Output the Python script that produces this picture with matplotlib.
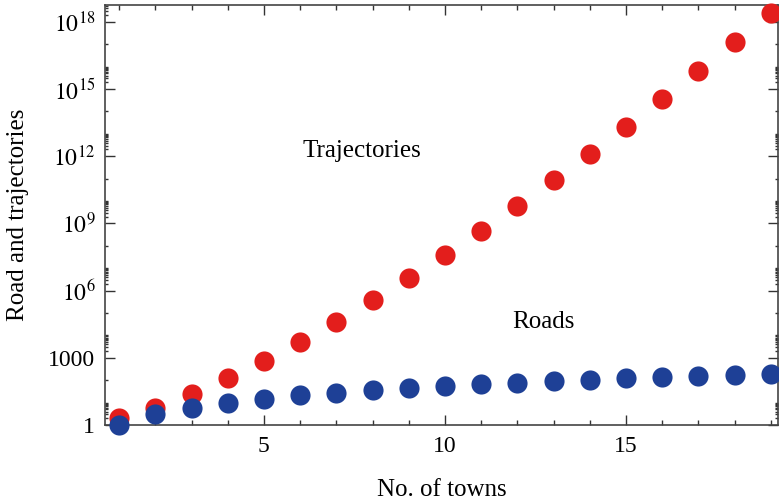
import numpy as np
import matplotlib.pyplot as plt
from matplotlib.ticker import FixedLocator, NullFormatter

plt.rcParams['font.family'] = ['Liberation Serif', 'DejaVu Serif']
plt.rcParams['mathtext.fontset'] = 'stix'

# number of towns
towns = list(range(1, 20))
# possible trajectories, (n+1)!
trajectories = [2, 6, 24, 120, 720, 5040, 40320, 362880, 3628800,
                39916800, 479001600, 6227020800, 87178291200,
                1.307674368e12, 2.0922789888e13, 3.55687428096e14,
                6.402373705728e15, 1.21645100408832e17, 2.43290200817664e18]
# roads between towns
roads = [1, 3, 6, 10, 15, 21, 28, 36, 45, 55, 66, 78, 91, 105, 120,
         136, 153, 171, 190]

ytick_vals = [1, 1e3, 1e6, 1e9, 1e12, 1e15, 1e18]
ytick_labels = ['1', '1000', '$10^{6}$', '$10^{9}$', '$10^{12}$',
                '$10^{15}$', '$10^{18}$']

red = '#e31e1c'
blue = '#1e4096'

fig = plt.figure(figsize=(7.79, 5.01), dpi=100)
ax = fig.add_axes([105 / 779, 76 / 501, 673 / 779, 420 / 501])

ax.plot(towns, trajectories, 'o', color=red, ms=14.5, mec='none', clip_on=False, zorder=3)
ax.plot(towns, roads, 'o', color=blue, ms=14.5, mec='none', clip_on=False, zorder=4)

ax.set_yscale('log')
ax.set_xlim(0.61, 19.2)
ax.set_ylim(1, 10 ** 18.75)

ax.set_xticks([5, 10, 15])
ax.set_xticks(range(1, 20), minor=True)
ax.yaxis.set_major_locator(FixedLocator(ytick_vals))
ax.set_yticklabels(ytick_labels)
minor = []
for k in range(0, 19, 3):
    minor += [m * 10 ** k for m in range(2, 10)]
    minor += [10 ** (k + 1), 10 ** (k + 2)]
ax.yaxis.set_minor_locator(FixedLocator([v for v in minor if v < 10 ** 18.75]))
ax.yaxis.set_minor_formatter(NullFormatter())

ax.tick_params(which='both', direction='in', top=True, right=True,
               labelsize=17, width=1, color='#333333')
ax.tick_params(which='major', length=7)
ax.tick_params(which='minor', length=3.5)
ax.tick_params(axis='y', which='minor', length=2.5)
ax.tick_params(axis='x', pad=8)
ax.tick_params(axis='y', pad=7)
for s in ax.spines.values():
    s.set_color('#444444')
    s.set_linewidth(1.2)

ax.set_xlabel('No. of towns', fontsize=18, labelpad=16)
ax.set_ylabel('Road and trajectories', fontsize=18, labelpad=14)

# curve labels inside the plot
ax.annotate('Trajectories', xy=(362 / 779, 1 - 151 / 501), xycoords='figure fraction',
            fontsize=18, ha='center', va='center')
ax.annotate('Roads', xy=(543 / 779, 1 - 322 / 501), xycoords='figure fraction',
            fontsize=18, ha='center', va='center')

fig.savefig('out.png', dpi=100)
